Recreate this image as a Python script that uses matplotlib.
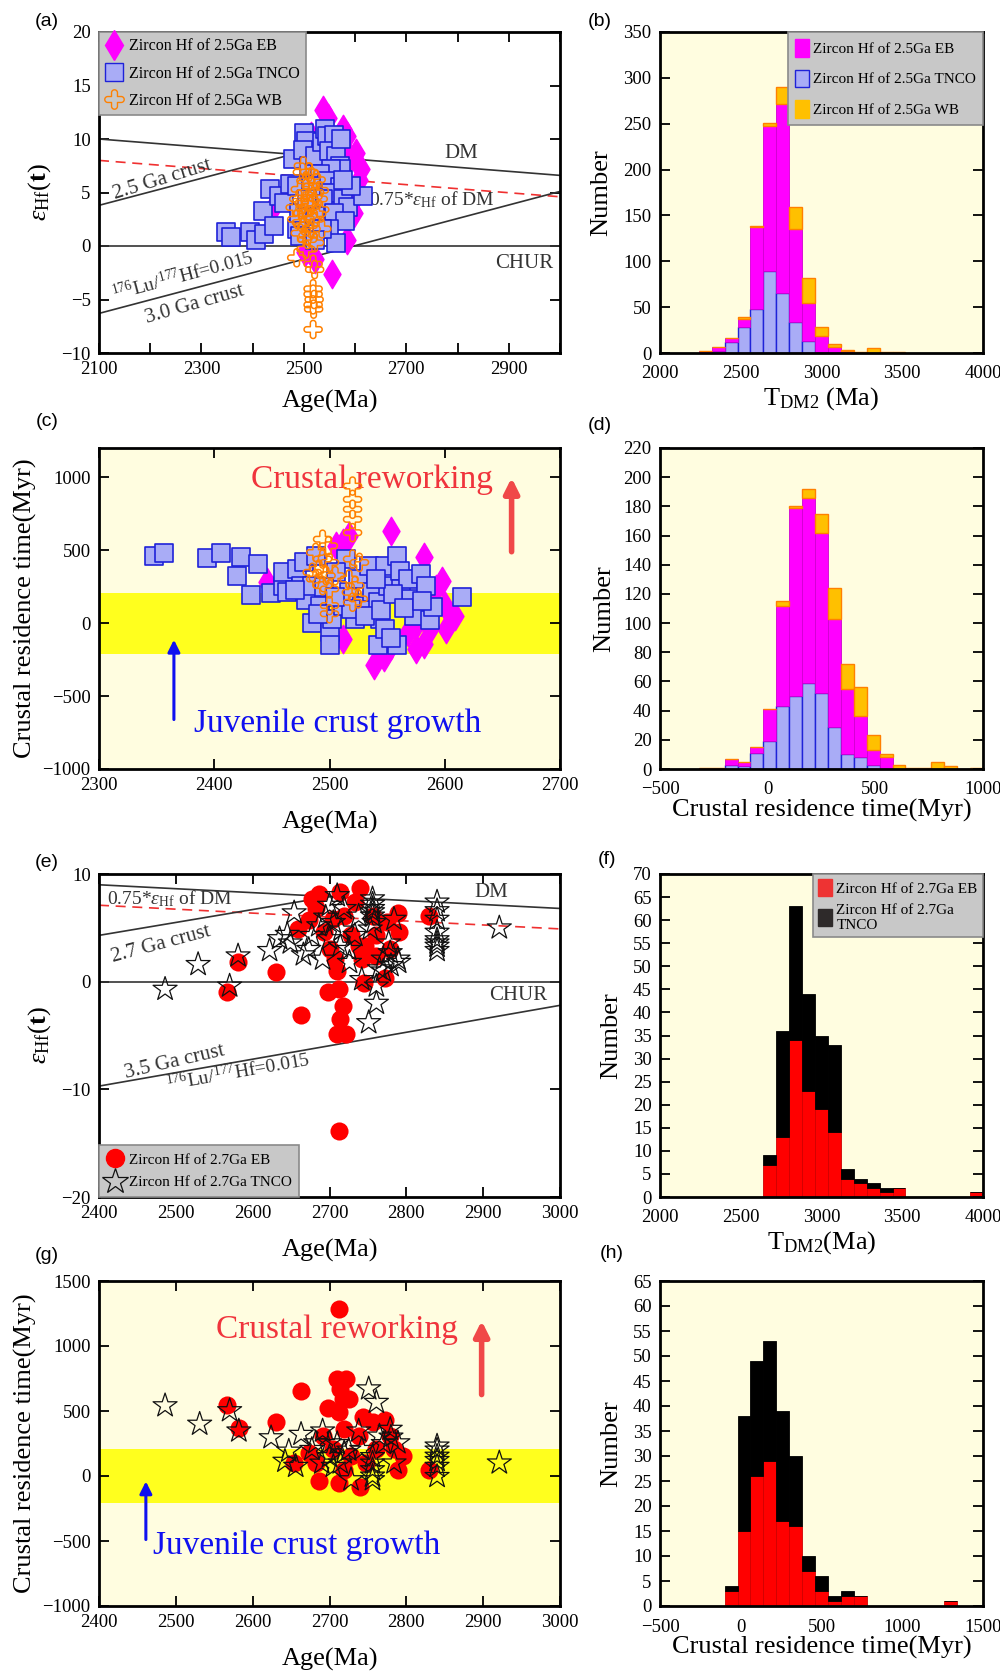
import numpy as np
import matplotlib.pyplot as plt
from matplotlib.path import Path
from matplotlib.patches import Patch
from matplotlib.lines import Line2D

plt.rcParams['font.family'] = 'Liberation Serif'
plt.rcParams['mathtext.fontset'] = 'custom'
plt.rcParams['mathtext.rm'] = 'Liberation Serif'
plt.rcParams['mathtext.it'] = 'Liberation Serif:italic'
plt.rcParams['mathtext.bf'] = 'Liberation Serif:bold'

# ---------------- data: panel (a) ----------------
a_eb_age = [2538, 2547, 2577, 2584, 2601, 2612, 2608, 2594, 2598, 2584, 2555, 2521,
            2510, 2503, 2514, 2441, 2590, 2596, 2570, 2565]
a_eb_eps = [12.7, 12.0, 10.9, 10.3, 8.7, 7.2, 6.2, 5.0, 3.1, 0.6, -2.6, -1.2,
            -0.3, -0.6, 10.3, 3.7, 8.2, 4.2, 9.5, 7.8]
a_tn_age = [2348, 2357, 2395, 2406, 2423, 2420, 2434, 2441, 2451, 2462, 2472, 2479, 2486,
            2493, 2500, 2504, 2499, 2486, 2490, 2510, 2521, 2535, 2542, 2545, 2559, 2549,
            2563, 2570, 2573, 2552, 2531, 2545, 2570, 2552, 2538, 2577, 2587, 2559, 2580,
            2549, 2563, 2615, 2591, 2521, 2514, 2573, 2577, 2535, 2521, 2507]
a_tn_eps = [1.3, 0.8, 1.3, 0.6, 1.1, 3.3, 5.3, 1.9, 4.7, 4.0, 5.8, 8.1, 1.6,
            0.9, 10.6, 9.8, 9.0, 5.6, 3.1, 7.5, 8.4, 9.7, 10.9, 10.3, 10.4, 8.9,
            8.4, 7.5, 7.2, 7.2, 6.7, 6.1, 5.5, 5.0, 4.4, 4.4, 3.6, 3.1, 2.3,
            1.6, 0.3, 4.7, 5.6, 2.8, 5.6, 10.0, 6.2, 1.6, 0.6, 4.4]
a_wb_age = [2499, 2497, 2504, 2493, 2514, 2521, 2490, 2500, 2514, 2528, 2497, 2507, 2521,
            2486, 2500, 2514, 2535, 2493, 2507, 2521, 2504, 2486, 2518, 2521, 2518, 2518,
            2520, 2518, 2519, 2518, 2510, 2524, 2531, 2483, 2505, 2512, 2495, 2525, 2508,
            2515, 2502, 2530]
a_wb_eps = [7.5, 6.9, 6.1, 5.3, 5.6, 5.0, 4.4, 4.0, 3.7, 4.4, 3.1, 2.8, 2.5,
            2.5, 1.9, 1.6, 1.6, 1.2, 0.6, 0.3, -0.3, -1.1, -1.7, -2.2, -4.0, -4.5,
            -5.0, -5.5, -5.9, -7.8, 6.9, 6.2, 3.4, 3.6, 5.0, 4.2, 2.2, 3.0, 1.0,
            6.5, 3.5, 5.2]
a_dm = ([2100, 3000], [10.0, 6.6])
a_dm75 = ([2100, 3000], [8.0, 4.6])
a_crust25 = ([2100, 2480], [3.8, 8.6])
a_crust30 = ([2100, 3000], [-6.3, 5.1])

# ---------------- data: panel (b) ----------------
b_left = [2240, 2320, 2400, 2480, 2560, 2640, 2720, 2800, 2880, 2960, 3040, 3120,
          3200, 3280, 3360, 3440]
b_tnco = [0, 2, 12, 28, 48, 89, 65, 34, 13, 1, 0, 0, 0, 0, 0, 0]
b_eb = [2, 4, 4, 9, 89, 158, 206, 101, 41, 17, 7, 2, 0, 0, 0, 0]
b_wb = [0, 0, 0, 2, 1, 4, 19, 24, 28, 10, 3, 1, 1, 5, 1, 1]

# ---------------- data: panel (c) ----------------
c_eb_age = [2446, 2512, 2553, 2582, 2598, 2600, 2609, 2601, 2575, 2582, 2539, 2547,
            2568, 2587, 2592, 2512, 2517, 2506, 2553, 2575]
c_eb_crt = [284, -107, 632, 450, 291, 120, 52, -39, -175, -141, -284, -232,
            -61, -39, 234, 552, 598, 530, -152, -16]
c_tn_age = [2348, 2356, 2394, 2406, 2423, 2420, 2438, 2432, 2449, 2460, 2460, 2463, 2472,
            2475, 2478, 2480, 2485, 2488, 2492, 2500, 2500, 2502, 2514, 2512, 2517, 2522,
            2525, 2528, 2534, 2537, 2542, 2542, 2544, 2548, 2548, 2551, 2559, 2561, 2559,
            2562, 2568, 2571, 2573, 2579, 2584, 2587, 2590, 2615, 2519, 2531, 2485, 2506,
            2495, 2505, 2545, 2555, 2565, 2580, 2470, 2490, 2540, 2553]
c_tn_crt = [457, 480, 443, 477, 450, 320, 405, 193, 207, 257, 348, 211, 370,
            257, 416, 155, 2, 461, 120, -61, -152, 30, 439, 120, 211, 30,
            302, 120, 393, 211, 143, -152, 30, 393, -39, 257, 461, 359, -152,
            234, 302, 166, 52, 336, 257, 18, 109, 177, 98, 52, 257, 348,
            250, 180, 90, 200, 100, 150, 230, 60, 300, -100]
c_wb_age = [2520, 2520, 2520, 2520, 2520, 2494, 2499, 2488, 2494, 2500, 2491, 2497, 2505,
            2488, 2494, 2500, 2520, 2526, 2517, 2522, 2519, 2525, 2520, 2500, 2500, 2485]
c_wb_crt = [939, 848, 780, 711, 620, 575, 530, 484, 439, 416, 370, 325, 325,
            302, 257, 234, 439, 416, 302, 257, 211, 166, 143, 64, 120, 348]

# ---------------- data: panel (d) ----------------
d_left = [-320, -260, -200, -140, -80, -20, 40, 100, 160, 220, 280, 340, 400, 460,
          520, 580, 640, 700, 760, 820, 880, 940]
d_tnco = [0, 0, 3, 2, 11, 19, 43, 50, 59, 52, 29, 10, 8, 3, 0, 0, 0, 0, 0, 0, 0, 0]
d_eb = [1, 1, 4, 3, 4, 22, 69, 129, 127, 110, 74, 45, 28, 10, 8, 0, 1, 0, 0, 0, 0, 0]
d_wb = [0, 0, 0, 0, 0, 0, 3, 1, 6, 13, 21, 17, 20, 10, 2, 3, 0, 1, 5, 2, 0, 1]

# ---------------- data: panel (e) ----------------
e_eb_age = [2566, 2581, 2631, 2663, 2686, 2698, 2712, 2717, 2714, 2710, 2721, 2710, 2707,
            2712, 2740, 2714, 2745, 2772, 2742, 2746, 2760, 2775, 2789, 2791, 2830, 2659,
            2673, 2682, 2693, 2700, 2719, 2728, 2733, 2738, 2761, 2756, 2779, 2677, 2705]
e_eb_eps = [-1.0, 1.8, 0.9, -3.1, 8.1, -1.0, -0.7, -2.3, -3.5, -4.9, -4.9, 1.0, 2.1,
            -13.9, 8.7, 8.3, -0.1, 0.3, 2.1, 3.3, 4.3, 5.5, 6.4, 4.6, 6.1, 4.9,
            5.7, 6.8, 4.6, 3.0, 6.1, 4.3, 7.4, 3.3, 2.4, 6.1, 3.0, 7.7, 5.8]
e_tn_age = [2486, 2529, 2570, 2581, 2622, 2645, 2654, 2666, 2649, 2691, 2700, 2710, 2719,
            2726, 2756, 2756, 2756, 2753, 2742, 2761, 2761, 2751, 2770, 2779, 2789, 2777,
            2784, 2840, 2840, 2840, 2840, 2840, 2921, 2677, 2686, 2714, 2738, 2733, 2673,
            2765, 2635, 2756, 2756, 2758, 2840, 2840, 2840, 2700, 2705, 2715, 2725, 2780,
            2790, 2770, 2695]
e_tn_eps = [-0.7, 1.6, -0.4, 2.4, 2.9, 4.4, 6.4, 2.5, 3.6, 2.1, 7.1, 8.0, 6.8,
            1.8, 7.7, 6.8, 6.1, 4.9, 0.2, -0.4, -2.0, -3.8, 2.1, 2.7, 2.1, 3.6,
            5.8, 7.4, 5.8, 4.6, 3.9, 3.3, 5.0, 4.3, 5.2, 3.3, 6.1, 4.3, 3.0,
            1.2, 4.0, 7.2, 6.5, 5.5, 6.6, 3.6, 2.9, 4.0, 5.5, 4.8, 3.0, 1.5,
            1.8, 1.0, 6.0]
e_dm = ([2400, 3000], [9.0, 6.8])
e_dm75 = ([2400, 3000], [7.1, 4.9])
e_crust27 = ([2400, 2700], [4.3, 7.9])
e_crust35 = ([2400, 3000], [-9.7, -2.2])

# ---------------- data: panel (f) ----------------
f_left = [2640, 2720, 2800, 2880, 2960, 3040, 3120, 3200, 3280, 3360, 3440, 3920]
f_eb = [7, 13, 34, 23, 19, 14, 4, 3, 2, 1, 2, 1]
f_tnco = [2, 23, 29, 21, 16, 19, 2, 1, 1, 1, 0, 0]

# ---------------- data: panel (g) ----------------
g_eb_age = [2712, 2710, 2721, 2714, 2717, 2663, 2698, 2712, 2567, 2582, 2631, 2743, 2772,
            2740, 2686, 2712, 2796, 2789, 2830, 2673, 2691, 2705, 2719, 2728, 2738, 2747,
            2761, 2779, 2784, 2756, 2654, 2682, 2719, 2726]
g_eb_crt = [1288, 749, 749, 671, 593, 653, 521, 490, 547, 373, 417, 451, 433,
            -85, -41, -54, 153, 49, 49, 179, 308, 205, 360, 153, 308, 101,
            205, 308, 205, 412, 101, 101, 49, 593]
g_tn_age = [2486, 2531, 2570, 2582, 2624, 2642, 2647, 2656, 2663, 2677, 2691, 2700, 2714,
            2728, 2751, 2761, 2738, 2756, 2756, 2765, 2779, 2789, 2784, 2840, 2840, 2840,
            2840, 2921, 2742, 2719, 2705, 2682, 2756, 2756, 2756, 2700, 2710, 2690, 2770,
            2780, 2725, 2840, 2840]
g_tn_crt = [541, 399, 503, 347, 295, 114, 192, 75, 321, 205, 347, 256, 101,
            -28, 671, 567, 347, 49, -28, 308, 360, 256, 101, 231, 153, 75,
            -3, 101, 205, 179, 75, 256, 100, 0, 150, 150, 250, 100, 250,
            300, 200, 200, 120]

# ---------------- data: panel (h) ----------------
h_left = [-100, -20, 60, 140, 220, 300, 380, 460, 540, 620, 700, 1260]
h_eb = [3, 15, 26, 29, 17, 16, 7, 3, 1, 2, 2, 1]
h_tnco = [1, 23, 23, 24, 22, 14, 3, 3, 1, 1, 0, 0]

# ---------------- styles ----------------
MAG = '#FF00FF'
LAV = '#A9ACF6'
BLU = '#1F22D8'
ORG = '#FF8000'
GLD = '#FFC000'
CREAM = '#FFFDE0'
BAND = '#FFFF1E'
LEG = '#C8C8C8'


def clover():
    w, L = 0.3, 0.68
    verts = []
    for k in range(4):
        th = np.deg2rad(90 * k)
        c, s = np.cos(th), np.sin(th)
        verts.append((c * w + s * w, s * w - c * w))
        for a in np.linspace(-90, 90, 13):
            x = L + w * np.cos(np.deg2rad(a))
            y = w * np.sin(np.deg2rad(a))
            verts.append((c * x - s * y, s * x + c * y))
    verts.append(verts[0])
    return Path(verts, closed=True)


CLOVER = clover()


def frame(ax, hist=False):
    for sp in ax.spines.values():
        sp.set_linewidth(2)
    ax.tick_params(direction='in', length=7, width=1.3, labelsize=13.5, pad=6,
                   top=not hist, right=True)
    if hist:
        ax.tick_params(axis='x', length=0, pad=9)


def legend(ax, handles, labels, loc, size=11.5, **kw):
    opts = dict(loc=loc, borderaxespad=0, fontsize=size, facecolor=LEG,
                edgecolor='#8A8A8A', framealpha=1, fancybox=False)
    opts.update(kw)
    leg = ax.legend(handles, labels, **opts)
    leg.get_frame().set_linewidth(1.2)


def panel(x, y, text):
    fig.text(x / 1000, 1 - y / 1671, text, family='Liberation Sans', fontsize=14,
             ha='center', va='center')


fig = plt.figure(figsize=(10, 16.71), dpi=100)
rows = [(32, 353), (448, 769), (874, 1197), (1281, 1606)]


def axes(col, r):
    top, bot = rows[r]
    if col == 0:
        return fig.add_axes([0.099, 1 - bot / 1671, 0.461, (bot - top) / 1671])
    return fig.add_axes([0.660, 1 - bot / 1671, 0.323, (bot - top) / 1671])


eps_label = r'$\varepsilon_{\rm Hf}(\mathbf{t})$'

# ---------------- (a) ----------------
ax = axes(0, 0)
ax.plot(*a_dm, color='#333333', lw=1.2)
ax.plot(*a_dm75, color='#F03030', lw=1.2, ls=(0, (6, 4)))
ax.axhline(0, color='#333333', lw=1.2)
ax.plot(*a_crust25, color='#333333', lw=1.2)
ax.plot(*a_crust30, color='#333333', lw=1.2)
ax.scatter(a_eb_age, a_eb_eps, marker='d', s=210, color=MAG, zorder=3)
ax.scatter(a_tn_age, a_tn_eps, marker='s', s=160, facecolor=LAV, edgecolor=BLU,
           lw=1.2, zorder=4)
ax.scatter(a_wb_age, a_wb_eps, marker=CLOVER, s=170, facecolor='none', edgecolor=ORG,
           lw=1.1, zorder=5)
ax.text(2808, 8.6, 'DM', fontsize=15, ha='center', va='center', color='#333333')
ax.text(2930, -1.6, 'CHUR', fontsize=15, ha='center', va='center', color='#333333')
ax.text(2627, 4.3, r'0.75*$\varepsilon_{\rm Hf}$ of DM', fontsize=14, va='center',
        color='#333333')
ax.text(2224, 6.2, '2.5 Ga crust', fontsize=15, rotation=17, ha='center', va='center',
        color='#333333')
ax.text(2264, -2.8, r'$^{176}$Lu/$^{177}$Hf=0.015', fontsize=14, rotation=15,
        ha='center', va='center', color='#333333')
ax.text(2287, -5.5, '3.0 Ga crust', fontsize=15, rotation=16, ha='center', va='center',
        color='#333333')
ax.set_xlim(2100, 3000)
ax.set_ylim(-10, 20)
ax.set_xticks(range(2100, 3001, 100))
ax.set_xticklabels([str(v) if (v - 2100) % 200 == 0 else '' for v in range(2100, 3001, 100)])
ax.set_yticks(range(-10, 21, 5))
frame(ax)
ax.set_xlabel('Age(Ma)', fontsize=19, labelpad=8)
ax.set_ylabel(eps_label, fontsize=19, labelpad=6)
handles = [
    Line2D([], [], marker='d', ls='none', ms=15, color=MAG),
    Line2D([], [], marker='s', ls='none', ms=13, markerfacecolor=LAV, markeredgecolor=BLU),
    Line2D([], [], marker=CLOVER, ls='none', ms=14, markerfacecolor='none',
           markeredgecolor=ORG),
]
legend(ax, handles, ['Zircon Hf of 2.5Ga EB', 'Zircon Hf of 2.5Ga TNCO',
                     'Zircon Hf of 2.5Ga WB'], 'upper left', size=11.5,
       handletextpad=0.35, labelspacing=0.7, borderpad=0.4, handlelength=1.1)

# ---------------- (b) ----------------
ax = axes(1, 0)
ax.set_facecolor(CREAM)
b_tnco = np.array(b_tnco)
b_eb = np.array(b_eb)
b_wb = np.array(b_wb)
ax.bar(b_left, b_tnco, width=80, align='edge', color=LAV, edgecolor=BLU, lw=1)
ax.bar(b_left, b_eb, width=80, align='edge', bottom=b_tnco, color=MAG, edgecolor='#D000D0',
       lw=0.6)
ax.bar(b_left, b_wb, width=80, align='edge', bottom=b_tnco + b_eb, color=GLD,
       edgecolor=ORG, lw=1)
ax.set_xlim(2000, 4000)
ax.set_ylim(0, 350)
ax.set_xticks([2000, 2500, 3000, 3500, 4000])
ax.set_yticks(range(0, 351, 50))
frame(ax, hist=True)
ax.set_xlabel(r'T$_{\rm DM2}$ (Ma)', fontsize=19, labelpad=2)
ax.set_ylabel('Number', fontsize=19, labelpad=8)
handles = [Patch(facecolor=MAG, edgecolor=MAG), Patch(facecolor=LAV, edgecolor=BLU),
           Patch(facecolor=GLD, edgecolor=GLD)]
legend(ax, handles, ['Zircon Hf of 2.5Ga EB', 'Zircon Hf of 2.5Ga TNCO',
                     'Zircon Hf of 2.5Ga WB'], 'upper right', size=11,
       handletextpad=0.3, labelspacing=0.85, borderpad=0.45, handlelength=0.9,
       handleheight=1.4)

# ---------------- (c) ----------------
ax = axes(0, 1)
ax.set_facecolor(CREAM)
ax.axhspan(-210, 205, color=BAND, lw=0, zorder=0)
ax.text(2432, 980, 'Crustal reworking', color='#F0343C', fontsize=24, va='center',
        zorder=1)
ax.annotate('', xy=(2658, 1015), xytext=(2658, 470),
            arrowprops=dict(arrowstyle='-|>', color='#F04848', lw=4, mutation_scale=22))
ax.annotate('', xy=(2365, -95), xytext=(2365, -680),
            arrowprops=dict(arrowstyle='-|>', color='#1010F0', lw=2.2, mutation_scale=18))
ax.text(2382, -690, 'Juvenile crust growth', color='#1010F0', fontsize=24, va='center')
ax.scatter(c_eb_age, c_eb_crt, marker='d', s=210, color=MAG, zorder=3)
ax.scatter(c_tn_age, c_tn_crt, marker='s', s=160, facecolor=LAV, edgecolor=BLU,
           lw=1.2, zorder=4)
ax.scatter(c_wb_age, c_wb_crt, marker=CLOVER, s=170, facecolor='none', edgecolor=ORG,
           lw=1.1, zorder=5)
ax.set_xlim(2300, 2700)
ax.set_ylim(-1000, 1200)
ax.set_xticks(range(2300, 2701, 100))
ax.set_yticks(range(-1000, 1001, 500))
frame(ax)
ax.set_xlabel('Age(Ma)', fontsize=19, labelpad=12)
ax.set_ylabel('Crustal residence time(Myr)', fontsize=19, labelpad=4)

# ---------------- (d) ----------------
ax = axes(1, 1)
ax.set_facecolor(CREAM)
d_tnco = np.array(d_tnco)
d_eb = np.array(d_eb)
d_wb = np.array(d_wb)
ax.bar(d_left, d_tnco, width=60, align='edge', color=LAV, edgecolor=BLU, lw=1)
ax.bar(d_left, d_eb, width=60, align='edge', bottom=d_tnco, color=MAG, edgecolor='#D000D0',
       lw=0.6)
ax.bar(d_left, d_wb, width=60, align='edge', bottom=d_tnco + d_eb, color=GLD,
       edgecolor=ORG, lw=1)
ax.set_xlim(-500, 1000)
ax.set_ylim(0, 220)
ax.set_xticks([-500, 0, 500, 1000])
ax.set_yticks(range(0, 221, 20))
frame(ax, hist=True)
ax.set_xlabel('Crustal residence time(Myr)', fontsize=19, labelpad=0)
ax.set_ylabel('Number', fontsize=19, labelpad=6)

# ---------------- (e) ----------------
ax = axes(0, 2)
ax.plot(*e_dm, color='#333333', lw=1.2)
ax.plot(*e_dm75, color='#F03030', lw=1.2, ls=(0, (6, 4)))
ax.axhline(0, color='#333333', lw=1.2)
ax.plot(*e_crust27, color='#333333', lw=1.2)
ax.plot(*e_crust35, color='#333333', lw=1.2)
ax.scatter(e_eb_age, e_eb_eps, marker='o', s=170, color='#FF0000', lw=0, zorder=3)
ax.scatter(e_tn_age, e_tn_eps, marker='*', s=330, facecolor='none', edgecolor='#111111',
           lw=0.9, zorder=4)
ax.text(2410, 7.7, r'0.75*$\varepsilon_{\rm Hf}$ of DM', fontsize=14, va='center',
        color='#333333')
ax.text(2910, 8.3, 'DM', fontsize=15, ha='center', va='center', color='#333333')
ax.text(2946, -1.3, 'CHUR', fontsize=15, ha='center', va='center', color='#333333')
ax.text(2481, 3.5, '2.7 Ga crust', fontsize=15, rotation=15, ha='center', va='center',
        color='#333333')
ax.text(2499, -7.5, '3.5 Ga crust', fontsize=15, rotation=13, ha='center', va='center',
        color='#333333')
ax.text(2581, -8.4, r'$^{176}$Lu/$^{177}$Hf=0.015', fontsize=14, rotation=10,
        ha='center', va='center', color='#333333')
ax.set_xlim(2400, 3000)
ax.set_ylim(-20, 10)
ax.set_xticks(range(2400, 3001, 100))
ax.set_yticks(range(-20, 11, 10))
frame(ax)
ax.set_xlabel('Age(Ma)', fontsize=19, labelpad=12)
ax.set_ylabel(eps_label, fontsize=19, labelpad=6)
handles = [
    Line2D([], [], marker='o', ls='none', ms=13, color='#FF0000'),
    Line2D([], [], marker='*', ls='none', ms=19, markerfacecolor='none',
           markeredgecolor='#111111', markeredgewidth=0.9),
]
legend(ax, handles, ['Zircon Hf of 2.7Ga EB', 'Zircon Hf of 2.7Ga TNCO'], 'lower left',
       size=11, handletextpad=0.35, labelspacing=0.6, borderpad=0.5, handlelength=1.1)

# ---------------- (f) ----------------
ax = axes(1, 2)
ax.set_facecolor(CREAM)
f_eb = np.array(f_eb)
f_tnco = np.array(f_tnco)
ax.bar(f_left, f_eb, width=80, align='edge', color='#FF0000', edgecolor='#D00000', lw=0.6)
ax.bar(f_left, f_tnco, width=80, align='edge', bottom=f_eb, color='#000000',
       edgecolor='#000000', lw=0.6)
ax.set_xlim(2000, 4000)
ax.set_ylim(0, 70)
ax.set_xticks([2000, 2500, 3000, 3500, 4000])
ax.set_yticks(range(0, 71, 5))
frame(ax, hist=True)
ax.set_xlabel(r'T$_{\rm DM2}$(Ma)', fontsize=19, labelpad=2)
ax.set_ylabel('Number', fontsize=19, labelpad=8)
handles = [Patch(facecolor='#EE3333', edgecolor='#EE3333'),
           Patch(facecolor='#2E2A2A', edgecolor='#2E2A2A')]
legend(ax, handles, ['Zircon Hf of 2.7Ga EB', 'Zircon Hf of 2.7Ga\nTNCO'], 'upper right',
       size=11, handletextpad=0.3, labelspacing=0.5, borderpad=0.35, handlelength=0.9,
       handleheight=1.3)

# ---------------- (g) ----------------
ax = axes(0, 3)
ax.set_facecolor(CREAM)
ax.axhspan(-210, 205, color=BAND, lw=0, zorder=0)
ax.text(2552, 1125, 'Crustal reworking', color='#F0343C', fontsize=24, va='center',
        zorder=1)
ax.annotate('', xy=(2898, 1215), xytext=(2898, 605),
            arrowprops=dict(arrowstyle='-|>', color='#F04848', lw=4, mutation_scale=22))
ax.annotate('', xy=(2461, -20), xytext=(2461, -510),
            arrowprops=dict(arrowstyle='-|>', color='#1010F0', lw=2.2, mutation_scale=18))
ax.text(2470, -535, 'Juvenile crust growth', color='#1010F0', fontsize=24, va='center')
ax.scatter(g_eb_age, g_eb_crt, marker='o', s=170, color='#FF0000', lw=0, zorder=3)
ax.scatter(g_tn_age, g_tn_crt, marker='*', s=330, facecolor='none', edgecolor='#111111',
           lw=0.9, zorder=4)
ax.set_xlim(2400, 3000)
ax.set_ylim(-1000, 1500)
ax.set_xticks(range(2400, 3001, 100))
ax.set_yticks(range(-1000, 1501, 500))
frame(ax)
ax.set_xlabel('Age(Ma)', fontsize=19, labelpad=12)
ax.set_ylabel('Crustal residence time(Myr)', fontsize=19, labelpad=4)

# ---------------- (h) ----------------
ax = axes(1, 3)
ax.set_facecolor(CREAM)
h_eb = np.array(h_eb)
h_tnco = np.array(h_tnco)
ax.bar(h_left, h_eb, width=80, align='edge', color='#FF0000', edgecolor='#D00000', lw=0.6)
ax.bar(h_left, h_tnco, width=80, align='edge', bottom=h_eb, color='#000000',
       edgecolor='#000000', lw=0.6)
ax.set_xlim(-500, 1500)
ax.set_ylim(0, 65)
ax.set_xticks([-500, 0, 500, 1000, 1500])
ax.set_yticks(range(0, 66, 5))
frame(ax, hist=True)
ax.set_xlabel('Crustal residence time(Myr)', fontsize=19, labelpad=0)
ax.set_ylabel('Number', fontsize=19, labelpad=8)

panel(47, 22, '(a)')
panel(600, 22, '(b)')
panel(47, 422, '(c)')
panel(600, 425, '(d)')
panel(47, 862, '(e)')
panel(607, 860, '(f)')
panel(47, 1255, '(g)')
panel(612, 1253, '(h)')

fig.savefig('out.png', dpi=100)
